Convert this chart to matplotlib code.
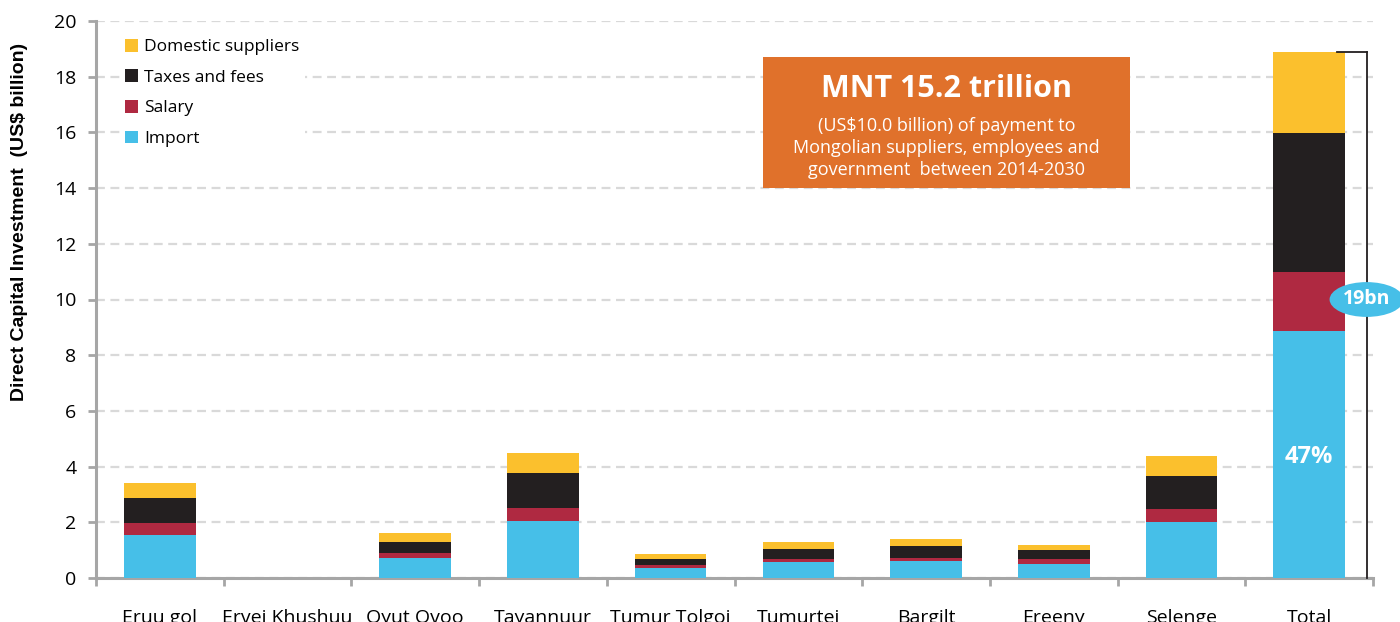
import numpy as np
import matplotlib.pyplot as plt
from matplotlib.patches import Ellipse, Rectangle

# values (US$ billion)
sites = ['Eruu gol', 'Ervei Khushuu', 'Oyut Ovoo', 'Tayannuur', 'Tumur Tolgoi',
         'Tumurtei', 'Bargilt', 'Ereeny', 'Selenge', 'Total']
imports = [1.55, 0.0, 0.72, 2.04, 0.35, 0.56, 0.62, 0.52, 2.0, 8.88]
salary = [0.42, 0.0, 0.18, 0.49, 0.11, 0.11, 0.11, 0.15, 0.46, 2.1]
taxes = [0.9, 0.0, 0.39, 1.23, 0.21, 0.38, 0.41, 0.33, 1.21, 5.0]
domestic = [0.54, 0.0, 0.33, 0.72, 0.18, 0.23, 0.26, 0.17, 0.72, 2.9]

c_import = '#46BFE8'
c_salary = '#AF2941'
c_taxes = '#231F20'
c_domestic = '#FBC02D'
grey = '#A6A6A6'

plt.rcParams['font.family'] = ['Open Sans', 'DejaVu Sans']

fig = plt.figure(figsize=(14, 6.22), dpi=100)
ax = fig.add_axes([96 / 1400, 44 / 622, 1277 / 1400, 557 / 622])

x = np.arange(len(sites))
w = 0.56
b1 = np.array(imports)
b2 = b1 + np.array(salary)
b3 = b2 + np.array(taxes)

ax.bar(x, imports, w, color=c_import, label='Import', zorder=3)
ax.bar(x, salary, w, bottom=b1, color=c_salary, label='Salary', zorder=3)
ax.bar(x, taxes, w, bottom=b2, color=c_taxes, label='Taxes and fees', zorder=3)
ax.bar(x, domestic, w, bottom=b3, color=c_domestic, label='Domestic suppliers', zorder=3)

ax.set_xlim(-0.5, len(sites) - 0.5)
ax.set_ylim(0, 20)
ax.set_yticks(np.arange(0, 21, 2))
ax.yaxis.grid(True, color='#D9D9D9', linestyle=(0, (4, 2.5)), linewidth=1.6, zorder=0)
ax.set_axisbelow(True)

for s in ['top', 'right']:
    ax.spines[s].set_visible(False)
for s in ['left', 'bottom']:
    ax.spines[s].set_color(grey)
    ax.spines[s].set_linewidth(2.2)

ax.set_xticks(x)
ax.set_xticklabels(sites, fontsize=14)
ax.tick_params(axis='x', which='major', length=0, pad=22)
ax.set_xticks(np.arange(-0.5, len(sites), 1), minor=True)
ax.tick_params(axis='x', which='minor', length=6, width=2, color=grey, direction='out')
ax.tick_params(axis='y', length=6, width=2, color=grey, labelsize=14, pad=8)

ax.set_ylabel('Direct Capital Investment  (US$ billion)', fontsize=14, fontweight='bold',
              family='Liberation Sans')
ax.yaxis.set_label_coords(-0.053, 0.64)

# legend, reversed order
h, l = ax.get_legend_handles_labels()
leg = ax.legend(h[::-1], l[::-1], loc='upper left', bbox_to_anchor=(0.012, 0.993),
                frameon=True, fontsize=12.5, handlelength=0.75, handleheight=0.75,
                handletextpad=0.35, labelspacing=0.82, borderpad=0.3)
leg.get_frame().set_edgecolor('none')
leg.get_frame().set_facecolor('white')
leg.get_frame().set_alpha(1)
leg.set_zorder(4)

# orange call-out box
ax.add_patch(Rectangle((0.522, 0.70), 0.288, 0.235, transform=ax.transAxes,
                       facecolor='#E0712B', edgecolor='none', zorder=5))
ax.text(0.666, 0.878, 'MNT 15.2 trillion', transform=ax.transAxes, ha='center', va='center',
        color='white', fontsize=22, fontweight='bold', zorder=6)
ax.text(0.666, 0.772, '(US$10.0 billion) of payment to\nMongolian suppliers, employees and\ngovernment  between 2014-2030',
        transform=ax.transAxes, ha='center', va='center', color='white', fontsize=13,
        linespacing=1.3, zorder=6)

# bracket next to the total bar
top = b3[-1] + domestic[-1]
bx = 9.45
ax.plot([bx, bx], [0, top], color='#231F20', lw=1.3, zorder=4, clip_on=False)
ax.plot([9.22, bx], [top, top], color='#231F20', lw=1.3, zorder=4, clip_on=False)
ax.add_patch(Ellipse((bx, 10.0), 0.58, 1.25, facecolor=c_import, edgecolor='none',
                     zorder=5, clip_on=False))
ax.text(bx, 10.0, '19bn', ha='center', va='center', color='white', fontsize=14,
        fontweight='bold', zorder=6, clip_on=False)

ax.text(9, 4.35, '47%', ha='center', va='center', color='white', fontsize=17,
        fontweight='bold', zorder=6)

fig.savefig('out.png', dpi=100)
